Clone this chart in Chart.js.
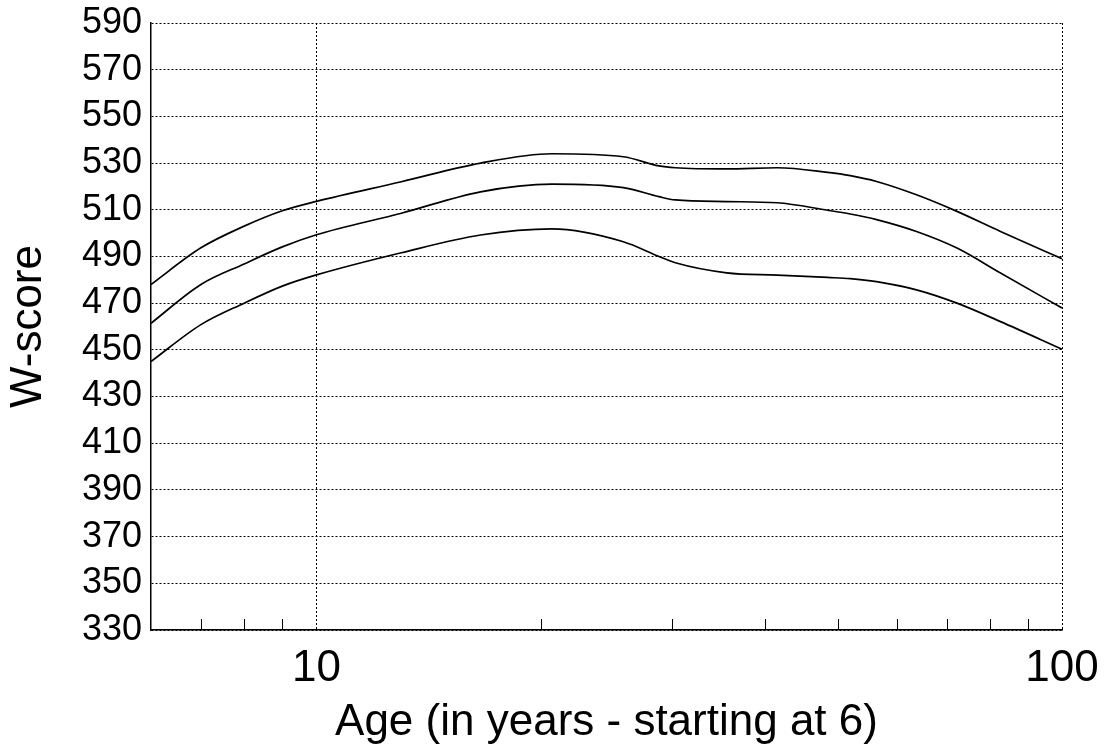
<!DOCTYPE html>
<html>
<head>
<meta charset="utf-8">
<title>W-score by age</title>
<script src="https://cdn.jsdelivr.net/npm/chart.js@4.4.1/dist/chart.umd.min.js"></script>
<style>
    body { margin: 0; background: #fff; }
    #wrap { width: 1107px; height: 750px; }
</style>
</head>
<body>
<div id="wrap"><canvas id="wChart" width="1107" height="750"></canvas></div>
<script>
// Данные
const ages = [6, 7, 8, 9, 10, 13, 16.6, 20.7, 25.8, 28.8, 30.3, 35.5, 41.5, 48.5, 52, 56.4, 63.8, 72.3, 82.7, 100];
const upperCurve = [478, 493.7, 503, 509.6, 513.6, 522, 530, 534, 532.7, 528.8, 528, 527.5, 528, 526, 524.6, 522.1, 516.4, 509.3, 500.7, 489];
const middleCurve = [461.4, 478, 486.8, 494.1, 499.3, 508.5, 517.7, 521, 519.5, 515.6, 514.2, 513.5, 513, 509.8, 508.2, 505.8, 500.7, 493.6, 482.9, 467.9];
const lowerCurve = [445, 460.8, 470, 477.3, 482.1, 491.6, 499.2, 501.8, 496.3, 490, 487.3, 483, 482, 481, 480.5, 479.2, 475.7, 470, 462.1, 450.3];

const xTickValues = [7, 8, 9, 10, 20, 30, 40, 50, 60, 70, 80, 90, 100];
const xLabeled = [10, 100];
const xGridAt = [10, 100];

const FONT = '"Liberation Sans", Arial, Helvetica, sans-serif';

const toPoints = (vals) => ages.map((a, i) => ({ x: a, y: vals[i] }));

const lineStyle = {
    borderColor: '#000',
    borderWidth: 1.7,
    pointRadius: 0,
    fill: false,
    cubicInterpolationMode: 'monotone'
};

// внутренние засечки на оси X
const innerTicks = {
    id: 'innerTicks',
    afterDatasetsDraw(chart) {
        const { ctx, scales: { x }, chartArea } = chart;
        ctx.save();
        ctx.strokeStyle = '#000';
        ctx.lineWidth = 1;
        xTickValues.forEach(v => {
            if (xGridAt.includes(v)) return;
            const px = Math.round(x.getPixelForValue(v)) + 0.5;
            ctx.beginPath();
            ctx.moveTo(px, chartArea.bottom);
            ctx.lineTo(px, chartArea.bottom - 11);
            ctx.stroke();
        });
        ctx.restore();
    }
};

new Chart(document.getElementById('wChart').getContext('2d'), {
    type: 'line',
    data: {
        datasets: [
            { data: toPoints(upperCurve), ...lineStyle },
            { data: toPoints(middleCurve), ...lineStyle },
            { data: toPoints(lowerCurve), ...lineStyle }
        ]
    },
    options: {
        responsive: false,
        animation: false,
        layout: { padding: { top: 23, right: 45, left: 0, bottom: 0 } },
        plugins: {
            legend: { display: false },
            tooltip: { enabled: false }
        },
        scales: {
            x: {
                type: 'logarithmic',
                min: 6,
                max: 100,
                afterBuildTicks: (scale) => {
                    scale.ticks = xTickValues.map(v => ({ value: v }));
                },
                afterFit: (scale) => {
                    scale.height = 120;
                    scale.paddingLeft = 0;
                    scale.paddingRight = 0;
                },
                ticks: {
                    autoSkip: false,
                    maxRotation: 0,
                    padding: 12,
                    color: '#000',
                    font: { family: FONT, size: 44 },
                    callback: (v) => xLabeled.includes(v) ? String(v) : ''
                },
                grid: {
                    drawTicks: false,
                    color: (c) => (c.tick && xGridAt.includes(c.tick.value)) ? '#000' : 'rgba(0,0,0,0)',
                    lineWidth: 1
                },
                border: { display: true, color: '#000', width: 1.5, dash: [2, 2] },
                title: {
                    display: true,
                    text: 'Age (in years - starting at 6)',
                    color: '#000',
                    font: { family: FONT, size: 44 },
                    padding: { top: 0, bottom: 1 }
                }
            },
            y: {
                min: 330,
                max: 590,
                afterFit: (scale) => {
                    scale.width = 151;
                    scale.paddingTop = 0;
                    scale.paddingBottom = 0;
                },
                ticks: {
                    stepSize: 20,
                    padding: 9,
                    color: '#000',
                    font: { family: FONT, size: 36 }
                },
                grid: {
                    drawTicks: false,
                    color: '#000',
                    lineWidth: 1
                },
                border: { display: true, color: '#000', width: 1.5, dash: [2, 2] },
                title: {
                    display: true,
                    text: 'W-score',
                    color: '#000',
                    font: { family: FONT, size: 44 },
                    padding: { top: 2, bottom: 0 }
                }
            }
        }
    },
    plugins: [innerTicks]
});
</script>
</body>
</html>
